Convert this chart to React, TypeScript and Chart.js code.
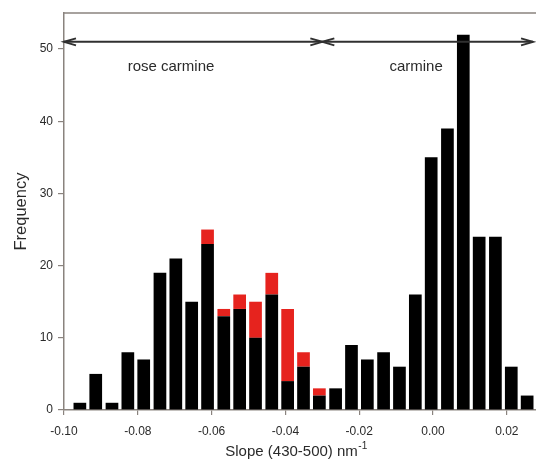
import React, { useEffect, useRef } from 'react';
import { Chart, registerables } from 'chart.js';

Chart.register(...registerables);

// Histogram bins (bin centres on the slope axis)
const binCenters = [
  -0.0957, -0.0914, -0.0870, -0.0827, -0.0784, -0.0740, -0.0697, -0.0654,
  -0.0611, -0.0567, -0.0524, -0.0481, -0.0437, -0.0394, -0.0351, -0.0308,
  -0.0264, -0.0221, -0.0178, -0.0134, -0.0091, -0.0048, -0.0005, 0.0039,
  0.0082, 0.0125, 0.0169, 0.0212, 0.0255,
];
const blackCounts = [
  1, 5, 1, 8, 7, 19, 21, 15, 23, 13, 14, 10, 16, 4, 6, 2,
  3, 9, 7, 8, 6, 16, 35, 39, 52, 24, 24, 6, 2,
];
const redCounts = [
  0, 0, 0, 0, 0, 0, 0, 0, 2, 1, 2, 5, 3, 10, 2, 1,
  0, 0, 0, 0, 0, 0, 0, 0, 0, 0, 0, 0, 0,
];
const xTicks = [-0.1, -0.08, -0.06, -0.04, -0.02, 0.0, 0.02];
const yTicks = [0, 10, 20, 30, 40, 50];
const regionNames = ['rose carmine', 'carmine'];
const regionStarts = [-0.1, -0.03];
const regionEnds = [-0.03, 0.0271];
const regionLabelX = [-0.071, -0.0046];

const X_MIN = -0.1;
const X_MAX = 0.0279;
const Y_MAX = 55;
const ARROW_Y = 51;
const LABEL_Y = 47.6;

const AXIS_COLOR = '#8a837e';
const TEXT_COLOR = '#2a2a2a';
const FONT = '"Liberation Sans", Arial, Helvetica, sans-serif';

const overlayPlugin = {
  id: 'overlay',
  afterDraw(chart: any) {
    const { ctx, chartArea } = chart;
    const xs = chart.scales.x;
    const ys = chart.scales.y;
    ctx.save();

    // top frame line
    ctx.strokeStyle = AXIS_COLOR;
    ctx.lineWidth = 1.5;
    ctx.beginPath();
    ctx.moveTo(chartArea.left, chartArea.top);
    ctx.lineTo(chartArea.right, chartArea.top);
    ctx.stroke();

    // region arrows
    const ay = ys.getPixelForValue(ARROW_Y);
    ctx.strokeStyle = '#303030';
    ctx.lineWidth = 2;
    const headL = 12;
    const headW = 3.5;
    for (let i = 0; i < regionStarts.length; i++) {
      const x1 = xs.getPixelForValue(regionStarts[i]);
      const x2 = xs.getPixelForValue(regionEnds[i]);
      ctx.beginPath();
      ctx.moveTo(x1, ay);
      ctx.lineTo(x2, ay);
      ctx.stroke();
      ctx.beginPath();
      ctx.moveTo(x1 + headL, ay - headW);
      ctx.lineTo(x1, ay);
      ctx.lineTo(x1 + headL, ay + headW);
      ctx.stroke();
      ctx.beginPath();
      ctx.moveTo(x2 - headL, ay - headW);
      ctx.lineTo(x2, ay);
      ctx.lineTo(x2 - headL, ay + headW);
      ctx.stroke();
    }

    // region labels
    ctx.fillStyle = TEXT_COLOR;
    ctx.font = `15px ${FONT}`;
    ctx.textAlign = 'center';
    ctx.textBaseline = 'middle';
    const ly = ys.getPixelForValue(LABEL_Y);
    for (let i = 0; i < regionNames.length; i++) {
      ctx.fillText(regionNames[i], xs.getPixelForValue(regionLabelX[i]), ly);
    }

    // y title
    ctx.save();
    ctx.translate(21, (chartArea.top + chartArea.bottom) / 2);
    ctx.rotate(-Math.PI / 2);
    ctx.font = `16.5px ${FONT}`;
    ctx.textAlign = 'center';
    ctx.textBaseline = 'middle';
    ctx.fillText('Frequency', 0, 0);
    ctx.restore();

    // x title with superscript
    const main = 'Slope (430-500) nm';
    const sup = '-1';
    ctx.font = `15px ${FONT}`;
    const wMain = ctx.measureText(main).width;
    ctx.font = `10px ${FONT}`;
    const wSup = ctx.measureText(sup).width;
    const total = wMain + wSup;
    const cx = (chartArea.left + chartArea.right) / 2 - 4;
    const baseY = chartArea.bottom + 46;
    ctx.textAlign = 'left';
    ctx.textBaseline = 'alphabetic';
    ctx.font = `15px ${FONT}`;
    ctx.fillText(main, cx - total / 2, baseY);
    ctx.font = `10px ${FONT}`;
    ctx.fillText(sup, cx - total / 2 + wMain + 0.5, baseY - 7);

    ctx.restore();
  },
};

export default function App() {
  const canvasRef = useRef<HTMLCanvasElement | null>(null);

  useEffect(() => {
    if (!canvasRef.current) return;
    const chart = new Chart(canvasRef.current, {
      type: 'bar',
      data: {
        datasets: [
          {
            label: 'carmine',
            data: binCenters.map((x, i) => ({ x, y: blackCounts[i] })),
            backgroundColor: '#000000',
            borderWidth: 0,
            barPercentage: 0.8,
            categoryPercentage: 1,
          },
          {
            label: 'rose carmine',
            data: binCenters.map((x, i) => ({ x, y: redCounts[i] })),
            backgroundColor: '#e6231e',
            borderWidth: 0,
            barPercentage: 0.8,
            categoryPercentage: 1,
          },
        ],
      },
      options: {
        responsive: false,
        animation: false,
        layout: { padding: { top: 13, right: 0, left: 0, bottom: 0 } },
        plugins: {
          legend: { display: false },
          tooltip: { enabled: false },
          title: { display: false },
        },
        scales: {
          x: {
            type: 'linear',
            stacked: true,
            min: X_MIN,
            max: X_MAX,
            offset: false,
            afterBuildTicks: (scale: any) => {
              scale.ticks = xTicks.map((v) => ({ value: v }));
            },
            afterFit: (scale: any) => {
              scale.height = 51;
            },
            grid: {
              display: true,
              offset: false,
              drawOnChartArea: false,
              drawTicks: true,
              tickLength: 5,
              color: AXIS_COLOR,
              lineWidth: 1.2,
            },
            border: { display: true, color: AXIS_COLOR, width: 1.5 },
            ticks: {
              autoSkip: false,
              maxRotation: 0,
              padding: 9,
              color: TEXT_COLOR,
              font: { family: FONT, size: 12 },
              callback: (v: any) => {
                const n = Number(v);
                return Math.abs(n) < 1e-9 ? '0.00' : n.toFixed(2);
              },
            },
          },
          y: {
            type: 'linear',
            stacked: true,
            min: 0,
            max: Y_MAX,
            afterBuildTicks: (scale: any) => {
              scale.ticks = yTicks.map((v) => ({ value: v }));
            },
            afterFit: (scale: any) => {
              scale.width = 64;
            },
            grid: {
              display: true,
              drawOnChartArea: false,
              drawTicks: true,
              tickLength: 6,
              color: AXIS_COLOR,
              lineWidth: 1.2,
            },
            border: { display: true, color: AXIS_COLOR, width: 1.5 },
            ticks: {
              padding: 5,
              color: TEXT_COLOR,
              font: { family: FONT, size: 12 },
            },
          },
        },
      },
      plugins: [overlayPlugin],
    } as any);
    return () => chart.destroy();
  }, []);

  return (
    <div style={{ position: 'absolute', left: 0, top: 0, width: 536, height: 461, background: '#ffffff' }}>
      <canvas ref={canvasRef} width={536} height={461} style={{ display: 'block' }} />
    </div>
  );
}
